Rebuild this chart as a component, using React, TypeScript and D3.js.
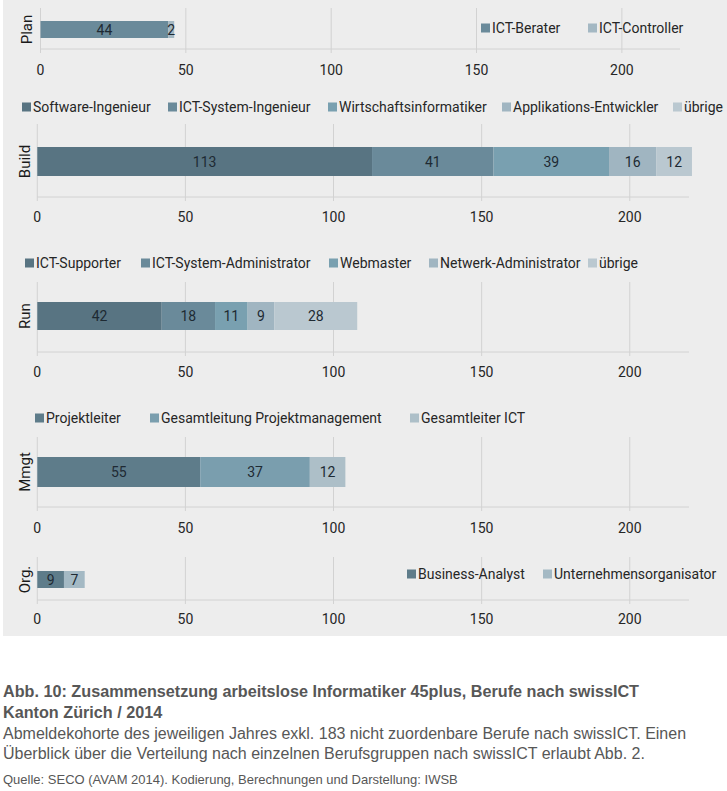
import React from "react";
import * as d3 from "d3";

// ---------- data ----------
const planSeries = ["ICT-Berater", "ICT-Controller"];
const planValues = [44, 2];
const planColors = ["#6a8a9a", "#a4b8c3"];

const buildSeries = ["Software-Ingenieur", "ICT-System-Ingenieur", "Wirtschaftsinformatiker", "Applikations-Entwickler", "übrige"];
const buildValues = [113, 41, 39, 16, 12];
const buildColors = ["#587482", "#6a8a9a", "#79a0b0", "#a0b5c1", "#bac8d0"];

const runSeries = ["ICT-Supporter", "ICT-System-Administrator", "Webmaster", "Netwerk-Administrator", "übrige"];
const runValues = [42, 18, 11, 9, 28];
const runColors = ["#587482", "#6a8a9a", "#79a0b0", "#a0b5c1", "#bac8d0"];

const mmgtSeries = ["Projektleiter", "Gesamtleitung Projektmanagement", "Gesamtleiter ICT"];
const mmgtValues = [55, 37, 12];
const mmgtColors = ["#5e7c8a", "#7a9eae", "#adbfc8"];

const orgSeries = ["Business-Analyst", "Unternehmensorganisator"];
const orgValues = [9, 7];
const orgColors = ["#5e7c8a", "#a4b9c4"];

const categories = ["Plan", "Build", "Run", "Mmgt", "Org."];
const xTicks = [0, 50, 100, 150, 200];
const xDomain = [0, 220];

const captionTitle1 = "Abb. 10: Zusammensetzung arbeitslose Informatiker 45plus, Berufe nach swissICT";
const captionTitle2 = "Kanton Zürich / 2014";
const captionText1 = "Abmeldekohorte des jeweiligen Jahres exkl. 183 nicht zuordenbare Berufe nach swissICT. Einen";
const captionText2 = "Überblick über die Verteilung nach einzelnen Berufsgruppen nach swissICT erlaubt Abb. 2.";
const captionSource = "Quelle: SECO (AVAM 2014). Kodierung, Berechnungen und Darstellung: IWSB";

// ---------- layout ----------
const panels = [
  { cat: categories[0], series: planSeries, values: planValues, colors: planColors,
    x0: 40.5, x1: 680, gridTop: 8, barTop: 21, barH: 17, base: 49, tickY: 70,
    legendY: 28, legendX: [481, 588], catX: 27 },
  { cat: categories[1], series: buildSeries, values: buildValues, colors: buildColors,
    x0: 37.3, x1: 689, gridTop: 124, barTop: 147, barH: 29, base: 197, tickY: 217,
    legendY: 107, legendX: [22, 168, 328, 502, 673], catX: 25 },
  { cat: categories[2], series: runSeries, values: runValues, colors: runColors,
    x0: 37.3, x1: 689, gridTop: 282, barTop: 302, barH: 28, base: 352, tickY: 372,
    legendY: 263, legendX: [25, 141, 329, 429, 588], catX: 25 },
  { cat: categories[3], series: mmgtSeries, values: mmgtValues, colors: mmgtColors,
    x0: 37.3, x1: 689, gridTop: 437, barTop: 457, barH: 30, base: 507, tickY: 528,
    legendY: 418, legendX: [35, 150, 410], catX: 25 },
  { cat: categories[4], series: orgSeries, values: orgValues, colors: orgColors,
    x0: 37.3, x1: 689, gridTop: 557, barTop: 571, barH: 17, base: 600, tickY: 619,
    legendY: 574, legendX: [407, 543], catX: 25 },
];

const FONT = "Roboto, 'Open Sans', sans-serif";
const CAPFONT = "'Liberation Sans', Arial, sans-serif";
const GRID = "#d2d2d2";

function Panel({ p }: { p: any }) {
  const x = d3.scaleLinear().domain(xDomain).range([p.x0, p.x1]);
  const stack = d3.cumsum(p.values);
  const starts = p.values.map((v: number, i: number) => stack[i] - v);
  return (
    <g>
      {xTicks.map((t) => (
        <g key={t}>
          <line x1={x(t)} x2={x(t)} y1={p.gridTop} y2={p.base + 4} stroke={GRID} strokeWidth={1} />
          <text x={x(t)} y={p.tickY} textAnchor="middle" dominantBaseline="central"
            fontFamily={FONT} fontSize={14} fill="#262626">{t}</text>
        </g>
      ))}
      <line x1={x(0)} x2={x(xDomain[1])} y1={p.base} y2={p.base} stroke={GRID} strokeWidth={1} />
      {p.values.map((v: number, i: number) => (
        <g key={i}>
          <rect x={x(starts[i])} y={p.barTop} width={x(starts[i] + v) - x(starts[i])} height={p.barH}
            fill={p.colors[i]} />
          <text x={(x(starts[i]) + x(starts[i] + v)) / 2} y={p.barTop + p.barH / 2}
            textAnchor="middle" dominantBaseline="central" fontFamily={FONT} fontSize={14}
            fill="#1e2a33">{v}</text>
        </g>
      ))}
      <text transform={`translate(${p.catX},${p.barTop + p.barH / 2}) rotate(-90)`}
        textAnchor="middle" dominantBaseline="central" fontFamily={FONT} fontSize={15}
        fill="#1a1a1a">{p.cat}</text>
      {p.series.map((s: string, i: number) => (
        <g key={s}>
          <rect x={p.legendX[i]} y={p.legendY - 4.5} width={9} height={9} fill={p.colors[i]} />
          <text x={p.legendX[i] + 11} y={p.legendY} dominantBaseline="central"
            fontFamily={FONT} fontSize={14} fill="#262626">{s}</text>
        </g>
      ))}
    </g>
  );
}

export default function App() {
  return (
    <div style={{ position: "absolute", left: 0, top: 0 }}>
      <svg width={727} height={791} style={{ display: "block", background: "#fff" }}>
        <rect x={3} y={0} width={724} height={636} fill="#ededed" />
        {panels.map((p) => <Panel key={p.cat} p={p} />)}
        <g fontFamily={CAPFONT} fill="#575757">
          <text x={3} y={697} fontSize={16.2} fontWeight="bold">{captionTitle1}</text>
          <text x={3} y={718} fontSize={16.2} fontWeight="bold">{captionTitle2}</text>
          <text x={3} y={739} fontSize={16}>{captionText1}</text>
          <text x={3} y={759} fontSize={16}>{captionText2}</text>
          <text x={3} y={784} fontSize={13}>{captionSource}</text>
        </g>
      </svg>
    </div>
  );
}
